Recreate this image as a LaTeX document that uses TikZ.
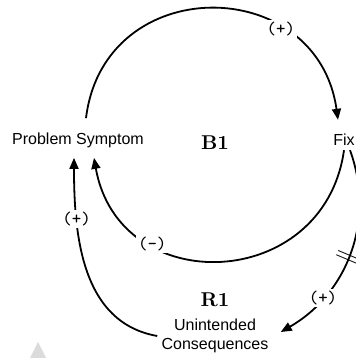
\documentclass[tikz,border=0pt]{standalone}
\usepackage{fontspec}
\newfontfamily\varfont{Liberation Sans}
\usetikzlibrary{arrows.meta,positioning}

\begin{document}
\begin{tikzpicture}[
  x=0.5pt, y=0.5pt,
  varnode/.style={font=\varfont\footnotesize, inner sep=2pt, align=center},
  loopnode/.style={font=\bfseries},
  link/.style={-{Triangle[length=5.5pt,width=4.5pt]}, line width=0.9pt},
  sign/.style={font=\ttfamily\small, fill=white, inner sep=1pt},
  delaymark/.style={sloped, font=\large, inner sep=0pt}
]
\useasboundingbox (0,0) rectangle (355,358);
% faint mark at the lower left
\fill[black!14] (38,16) -- (46,0) -- (30,0) -- cycle;
% ---------------- variables ----------------
\node[varnode] (ps) at (78,218) {Problem Symptom};
\node[varnode] (fix) at (344,218) {Fix};
\node[varnode] (uc) at (215,22) {Unintended\\Consequences};
% ---------------- loop names ----------------
\node[loopnode] (b1) at (215,215) {B1};
\node[loopnode] (r1) at (215,58) {R1};
% ---------------- balancing loop ----------------
\draw[link] ([xshift=4pt,yshift=5pt]ps.north) to[out=83,in=98,looseness=1.5]
  node[sign,pos=0.71] {(+)} ([xshift=-3pt,yshift=5pt]fix.north);
\draw[link] (fix.south) to[out=-98,in=-80,looseness=1.47]
  node[sign,pos=0.71] {(-)} ([xshift=8pt,yshift=-3pt]ps.south);
% ---------------- reinforcing loop ----------------
\draw[link] ([xshift=3pt]fix.south) to[out=-70,in=30]
  node[delaymark,pos=0.52] {$\parallel$}
  node[sign,pos=0.75] {(+)} ([xshift=4pt,yshift=2pt]uc.east);
\draw[link] (uc.west) to[out=170,in=-90]
  node[sign,pos=0.74] {(+)} ([xshift=-2pt,yshift=-3pt]ps.south);
\end{tikzpicture}
\end{document}
